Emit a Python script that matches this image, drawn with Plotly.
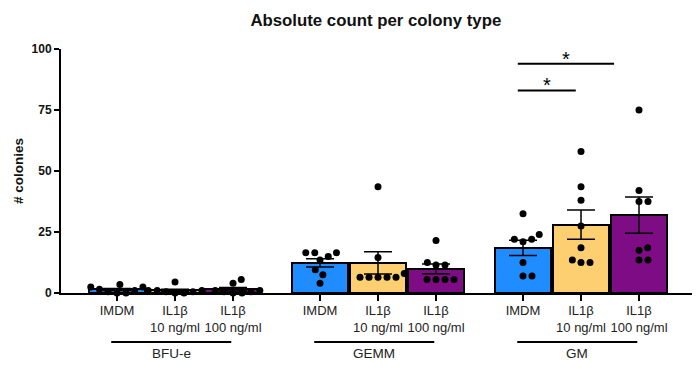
import numpy as np
import plotly.graph_objects as go

# ---------------- data ----------------
groups = ["BFU-e", "GEMM", "GM"]
conditions = ["IMDM", "IL1β<br>10 ng/ml", "IL1β<br>100 ng/ml"]

bfu_imdm = [0, 0, 0.5, 1, 1.5, 2.5, 2.5, 3.5]
bfu_10 = [0, 0, 0.5, 0.5, 1, 1, 1, 4.5]
bfu_100 = [0, 0, 0.5, 0.5, 1, 1, 4, 5.5]

gemm_imdm = [4, 7.5, 9.5, 13.5, 15, 16.5, 16.5, 16.5]
gemm_10 = [6.5, 6.5, 6.5, 6.5, 6.5, 8, 14.5, 43.5]
gemm_100 = [5.5, 5.5, 5.5, 5.5, 11.5, 11.5, 12.5, 21.5]

gm_imdm = [7, 7, 12.5, 21, 22, 22, 24, 32.5]
gm_10 = [12.5, 12.5, 13.5, 18.5, 27.5, 38, 43.5, 58]
gm_100 = [13.5, 13.5, 17.5, 18.5, 37.5, 37.5, 42, 75]

series = [[bfu_imdm, bfu_10, bfu_100],
          [gemm_imdm, gemm_10, gemm_100],
          [gm_imdm, gm_10, gm_100]]

# significance (group index, cond a, cond b, label)
significance = [(2, 0, 1, "*"), (2, 0, 2, "*")]

y_ticks = [0, 25, 50, 75, 100]

# ---------------- style ----------------
colors = ["#1F8CFF", "#FECF70", "#7E0C84"]
GROUP_GAP = 1.5
PX_X = 58.0
PX_Y = 2.44
FONT = "Liberation Sans, Arial, sans-serif"
PAGE_OFFSET = 8  # default body margin of the page


def positions():
    pos = []
    for g in range(len(groups)):
        base = g * (len(conditions) - 1 + GROUP_GAP)
        pos.append([base + c for c in range(len(conditions))])
    return pos


def swarm(vals, D=9.0):
    placed = []
    offs = [0.0] * len(vals)
    order = sorted(range(len(vals)), key=lambda i: vals[i])
    for i in order:
        y = vals[i] * PX_Y
        cands = [0.0]
        for (px, py) in placed:
            dy = abs(py - y)
            if dy < D:
                dx = (D * D - dy * dy) ** 0.5
                cands += [px + dx, px - dx]
        cands.sort(key=abs)
        chosen = 0.0
        for c in cands:
            if all((c - px) ** 2 + (y - py) ** 2 >= D * D - 1e-6 for px, py in placed):
                chosen = c
                break
        placed.append((chosen, y))
        offs[i] = chosen / PX_X
    return offs


pos = positions()
fig = go.Figure()

for c in range(len(conditions)):
    xs, means, sems = [], [], []
    for g in range(len(groups)):
        v = np.array(series[g][c], dtype=float)
        xs.append(pos[g][c])
        means.append(v.mean())
        sems.append(v.std(ddof=1) / np.sqrt(len(v)))
    fig.add_trace(go.Bar(
        x=xs, y=means, width=0.965,
        marker=dict(color=colors[c], line=dict(color="black", width=2)),
        error_y=dict(type="data", array=sems, visible=True, color="black",
                     thickness=1.5, width=14),
        showlegend=False,
    ))

dx_all, dy_all = [], []
for g in range(len(groups)):
    for c in range(len(conditions)):
        vals = series[g][c]
        offs = swarm(vals)
        for v, o in zip(vals, offs):
            dx_all.append(pos[g][c] + o)
            dy_all.append(v)
fig.add_trace(go.Scatter(x=dx_all, y=dy_all, mode="markers",
                         marker=dict(color="black", size=7),
                         showlegend=False, cliponaxis=False))

tickvals = [p for grp in pos for p in grp]
ticktext = conditions * len(groups)

shapes = []
annotations = []
# group lines and labels
for g, name in enumerate(groups):
    x0 = pos[g][0] - 0.1
    x1 = pos[g][-1] - 0.03
    shapes.append(dict(type="line", xref="x", yref="paper", x0=x0, x1=x1,
                       y0=-0.201, y1=-0.201, line=dict(color="black", width=2)))
    annotations.append(dict(text=name, xref="x", yref="paper", x=(x0 + x1) / 2,
                            y=-0.246, showarrow=False, xanchor="center",
                            yanchor="middle", font=dict(size=13.5, color="#222", family=FONT)))

# significance brackets
bracket_levels = [83, 94]
for k, (g, a, b, lab) in enumerate(significance):
    xa = pos[g][a] - 0.09
    xb = pos[g][b] - 0.09 if b == 1 else pos[g][b] - 0.43
    yl = bracket_levels[k]
    shapes.append(dict(type="line", xref="x", yref="y", x0=xa, x1=xb, y0=yl, y1=yl,
                       line=dict(color="black", width=2)))
    annotations.append(dict(text=lab, xref="x", yref="y", x=(xa + xb) / 2, y=yl,
                            yshift=5, showarrow=False, xanchor="center", yanchor="middle",
                            font=dict(size=20, color="black", family=FONT)))

# y-axis title
annotations.append(dict(text="<b># colonies</b>", xref="paper", yref="paper",
                        x=-0.0675, y=0.5, textangle=-90, showarrow=False,
                        xanchor="center", yanchor="middle", borderpad=0,
                        font=dict(size=13.5, color="#111", family=FONT)))

W, H = 700 - PAGE_OFFSET, 369 - PAGE_OFFSET
fig.update_layout(
    width=W, height=H,
    margin=dict(l=61 - PAGE_OFFSET, r=3, t=49 - PAGE_OFFSET, b=76),
    plot_bgcolor="white", paper_bgcolor="white",
    font=dict(family=FONT, color="#222"),
    title=dict(text="<b>Absolute count per colony type</b>", x=0.495, xref="paper",
               y=1 - (20 - PAGE_OFFSET) / H, yanchor="middle", xanchor="center",
               font=dict(size=16.8, color="#111", family=FONT)),
    bargap=0, barmode="overlay",
    shapes=shapes, annotations=annotations,
)
fig.update_xaxes(range=[-0.966, 10.0], showline=True, linecolor="black", linewidth=2,
                 tickvals=tickvals, ticktext=ticktext, ticks="outside", ticklen=6,
                 tickwidth=2, tickcolor="black", showgrid=False, zeroline=False,
                 ticklabelstandoff=-2,
                 tickfont=dict(size=13, color="#222", family=FONT))
fig.update_yaxes(range=[0, 100], tickvals=y_ticks, showline=True, linecolor="black",
                 linewidth=2, ticks="outside", ticklen=5, tickwidth=2, tickcolor="black",
                 showgrid=False, zeroline=False,
                 tickfont=dict(size=12, color="#111", family=FONT, weight="bold"))

fig.write_html("out.html")
